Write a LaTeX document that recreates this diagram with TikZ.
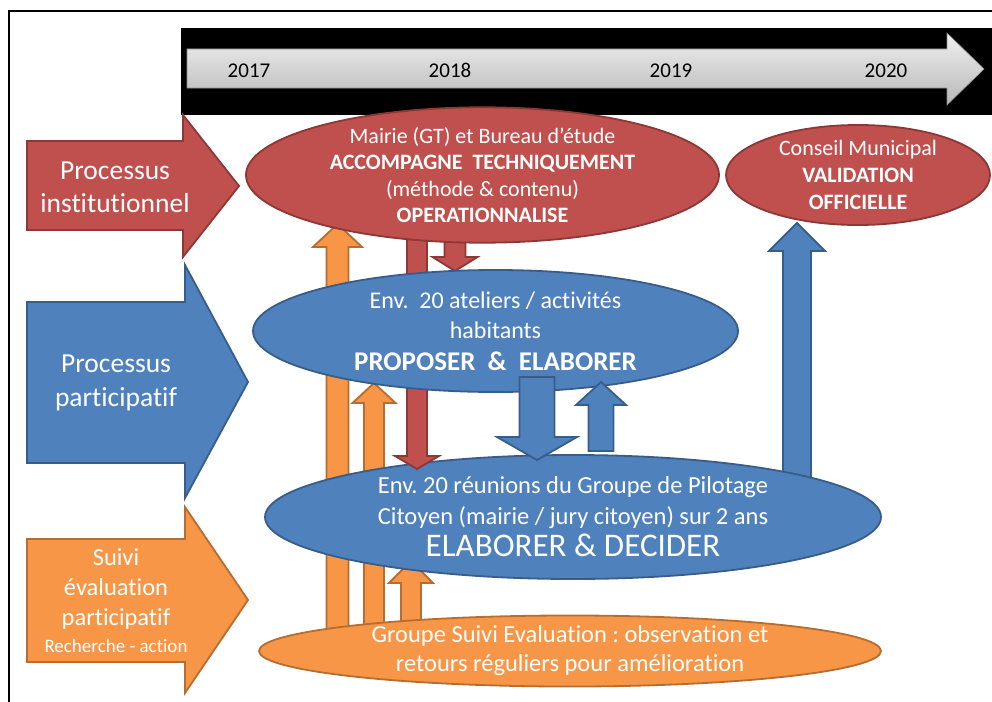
\documentclass[tikz,border=0pt]{standalone}
\usepackage{fontspec}
\setmainfont{Carlito}[Ligatures=NoCommon]
\usetikzlibrary{shapes.geometric}
\frenchspacing

\definecolor{rouge}{HTML}{C0504D}
\definecolor{rougebord}{HTML}{8C3836}
\definecolor{bleu}{HTML}{4F81BD}
\definecolor{bleubord}{HTML}{385D8A}
\definecolor{orangefond}{HTML}{F79646}
\definecolor{orangebord}{HTML}{B66D31}

% fleche verticale : style, x, y queue, y base pointe, y pointe, demi-corps, demi-pointe
\newcommand{\fleche}[7]{%
  \draw[#1] (#2-#6,#3) -- (#2-#6,#4) -- (#2-#7,#4) -- (#2,#5)
    -- (#2+#7,#4) -- (#2+#6,#4) -- (#2+#6,#3) -- cycle;}

\begin{document}
\begin{tikzpicture}[x=1pt,y=-1pt,
    ell/.style={ellipse, line width=1.8pt, inner sep=0pt, align=center, text=white},
    ellrouge/.style={ell, fill=rouge, draw=rougebord},
    ellbleu/.style={ell, fill=bleu, draw=bleubord},
    ellorange/.style={ell, fill=orangefond, draw=orangebord},
    frouge/.style={fill=rouge, draw=rougebord, line width=1.8pt},
    fbleu/.style={fill=bleu, draw=bleubord, line width=1.8pt},
    forange/.style={fill=orangefond, draw=orangebord, line width=1.8pt},
    titre/.style={text=white, align=center},
    annee/.style={text=black, anchor=base, inner sep=0pt, font=\fontsize{21}{25}\selectfont}]
  \useasboundingbox (0,0) rectangle (992,701);
  \clip (0,0) rectangle (992,701);
  \fill[white] (0,0) rectangle (992,701);
  \draw[line width=2pt] (9,11) rectangle (1010,720);

  % frise des annees
  \fill[black] (181,28) rectangle (995,115);
  \draw[draw=black!45, top color=black!6, bottom color=black!28, line width=0.6pt]
    (187,49) -- (947,49) -- (947,33) -- (984,69) -- (947,105) -- (947,88) -- (187,88) -- cycle;
  \node[annee] (a2017) at (249,77.5) {2017};
  \node[annee] (a2018) at (450,77.5) {2018};
  \node[annee] (a2019) at (671,77.5) {2019};
  \node[annee] (a2020) at (886,77.5) {2020};

  % grandes fleches de gauche
  \draw[frouge] (27,141) -- (183,141) -- (183,115) -- (239,186) -- (183,257) -- (183,230) -- (27,230) -- cycle;
  \draw[fbleu] (27,302) -- (185,302) -- (185,265) -- (248,382) -- (185,498) -- (185,463) -- (27,463) -- cycle;
  \draw[forange] (27,539) -- (185,539) -- (185,507) -- (248,600) -- (185,693) -- (185,662) -- (27,662) -- cycle;
  \node[titre, font=\fontsize{27.5}{33}\selectfont] (inst) at (115,187) {Processus\\institutionnel};
  \node[titre, font=\fontsize{27.5}{34}\selectfont] (part) at (116,383) {Processus\\participatif};
  \node[titre, font=\fontsize{24.5}{30}\selectfont] (suivi) at (116,601)
    {Suivi\\évaluation\\participatif\\[-3pt]{\fontsize{19}{23}\selectfont Recherche - action}};

  % fleches derriere les ellipses
  \fleche{forange}{337.5}{640}{247}{224}{11}{24.5}
  \fleche{forange}{374}{640}{403}{383}{10}{21.5}
  \fleche{forange}{411}{640}{583}{561}{10}{22}
  \fleche{fbleu}{797}{495}{251}{223}{14}{28}

  % ellipses
  \node[ellbleu, minimum width=616, minimum height=124, font=\fontsize{24.5}{31}\selectfont] (pilotage) at (573,517)
    {Env. 20 réunions du Groupe de Pilotage\\Citoyen (mairie / jury citoyen) sur 2 ans\\[1pt]{\fontsize{33}{38}\selectfont ELABORER \& DECIDER}};
  \node[ellorange, minimum width=622, minimum height=68, font=\fontsize{24.5}{29}\selectfont] (suivieval) at (570,651)
    {Groupe Suivi Evaluation : observation et\\retours réguliers pour amélioration};

  \fleche{frouge}{417}{215}{456}{469}{10}{22}
  \fleche{frouge}{455}{215}{257}{271}{10.5}{22.5}

  \node[ellbleu, minimum width=485, minimum height=122, font=\fontsize{24}{30}\selectfont] (ateliers) at (495.5,331)
    {Env.\ \ 20 ateliers / activités\\habitants\\[2pt]{\fontsize{27}{32}\selectfont\bfseries PROPOSER\ \ \&\ \ ELABORER}};
  \node[ellrouge, minimum width=473, minimum height=116, font=\fontsize{22}{26.5}\selectfont] (mairie) at (482.5,175)
    {Mairie (GT) et Bureau d’étude\\\textbf{ACCOMPAGNE\ \ TECHNIQUEMENT}\\(méthode \& contenu)\\\textbf{OPERATIONNALISE}};
  \node[ellrouge, minimum width=264, minimum height=100, font=\fontsize{22}{27}\selectfont] (conseil) at (858,175)
    {Conseil Municipal\\\textbf{VALIDATION}\\\textbf{OFFICIELLE}};

  % fleches entre ateliers et pilotage
  \fleche{fbleu}{537}{377}{437}{460}{17.5}{40}
  \fleche{fbleu}{601}{451}{405}{382}{12.5}{25}
\end{tikzpicture}
\end{document}
